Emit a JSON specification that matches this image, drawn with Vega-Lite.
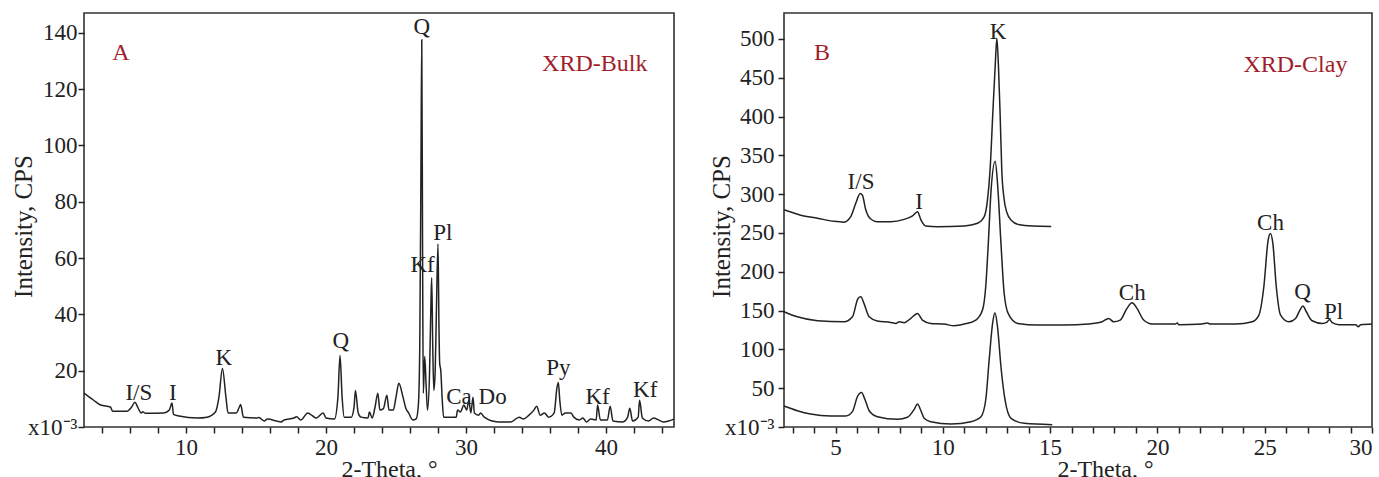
{
  "$schema": "https://vega.github.io/schema/vega-lite/v6.json",
  "background": "white",
  "padding": {"left": 10, "top": 12, "right": 0, "bottom": 0},
  "spacing": 30,
  "config": {
    "view": {"stroke": "#333333", "strokeWidth": 1.6},
    "font": "Liberation Serif",
    "axis": {
      "domain": false,
      "grid": false,
      "ticks": true,
      "tickColor": "#222222",
      "tickWidth": 1.5,
      "tickSize": 6,
      "tickCount": 60,
      "format": "d",
      "labelFont": "Liberation Serif",
      "labelFontSize": 23,
      "labelColor": "#222222",
      "labelOverlap": false,
      "labelBound": false,
      "titleFont": "Liberation Serif",
      "titleFontSize": 25,
      "titleFontWeight": "normal",
      "titleColor": "#222222"
    }
  },
  "datasets": {
    "bulk": [
      {"theta": 2.71, "cps": 12}, {"theta": 3.4, "cps": 9.5}, {"theta": 3.9, "cps": 7.8}, {"theta": 4.6, "cps": 7.1},
      {"theta": 4.75, "cps": 5.6}, {"theta": 5.8, "cps": 5.6}, {"theta": 6.1, "cps": 7}, {"theta": 6.35, "cps": 8.8},
      {"theta": 6.55, "cps": 7}, {"theta": 6.8, "cps": 5}, {"theta": 6.9, "cps": 5.4}, {"theta": 7.1, "cps": 4.9},
      {"theta": 8.4, "cps": 5}, {"theta": 8.8, "cps": 6}, {"theta": 9.0, "cps": 8.5}, {"theta": 9.1, "cps": 4.5},
      {"theta": 9.5, "cps": 3.9}, {"theta": 10.8, "cps": 3.2}, {"theta": 11.5, "cps": 3.5}, {"theta": 12.1, "cps": 5.3},
      {"theta": 12.35, "cps": 10.6}, {"theta": 12.6, "cps": 20.8}, {"theta": 12.85, "cps": 10.6}, {"theta": 13.0, "cps": 5},
      {"theta": 13.6, "cps": 5}, {"theta": 13.8, "cps": 7}, {"theta": 13.9, "cps": 8}, {"theta": 14.1, "cps": 3.5},
      {"theta": 15.1, "cps": 3.2}, {"theta": 15.2, "cps": 3.4}, {"theta": 15.6, "cps": 2.1}, {"theta": 15.8, "cps": 2.8},
      {"theta": 16.8, "cps": 1.8}, {"theta": 17.0, "cps": 2.5}, {"theta": 17.7, "cps": 3.2}, {"theta": 17.9, "cps": 3.6},
      {"theta": 18.2, "cps": 2.5}, {"theta": 18.7, "cps": 5}, {"theta": 19.05, "cps": 3.9}, {"theta": 19.3, "cps": 3.2},
      {"theta": 19.8, "cps": 5}, {"theta": 20.0, "cps": 3.2}, {"theta": 20.6, "cps": 2.8}, {"theta": 20.85, "cps": 10.6},
      {"theta": 21.0, "cps": 25.4}, {"theta": 21.15, "cps": 10.6}, {"theta": 21.3, "cps": 3.5}, {"theta": 21.8, "cps": 3.5},
      {"theta": 22.0, "cps": 7}, {"theta": 22.1, "cps": 13}, {"theta": 22.3, "cps": 5}, {"theta": 22.5, "cps": 3.5},
      {"theta": 23.0, "cps": 3.2}, {"theta": 23.1, "cps": 5.3}, {"theta": 23.3, "cps": 3.2}, {"theta": 23.5, "cps": 7},
      {"theta": 23.7, "cps": 12}, {"theta": 23.85, "cps": 6}, {"theta": 24.1, "cps": 6.5}, {"theta": 24.35, "cps": 11.3},
      {"theta": 24.5, "cps": 6}, {"theta": 24.8, "cps": 6}, {"theta": 25.0, "cps": 10.6}, {"theta": 25.2, "cps": 15.5},
      {"theta": 25.5, "cps": 10.6}, {"theta": 25.7, "cps": 6.7}, {"theta": 25.9, "cps": 5}, {"theta": 26.2, "cps": 2.5},
      {"theta": 26.45, "cps": 3}, {"theta": 26.6, "cps": 8}, {"theta": 26.7, "cps": 30}, {"theta": 26.78, "cps": 90},
      {"theta": 26.84, "cps": 137.5}, {"theta": 26.9, "cps": 60}, {"theta": 26.95, "cps": 12}, {"theta": 27.05, "cps": 25},
      {"theta": 27.15, "cps": 15}, {"theta": 27.25, "cps": 6}, {"theta": 27.4, "cps": 20}, {"theta": 27.5, "cps": 45},
      {"theta": 27.55, "cps": 53}, {"theta": 27.62, "cps": 30}, {"theta": 27.7, "cps": 13}, {"theta": 27.8, "cps": 20},
      {"theta": 27.9, "cps": 45}, {"theta": 28.0, "cps": 65}, {"theta": 28.07, "cps": 35}, {"theta": 28.12, "cps": 22.6},
      {"theta": 28.2, "cps": 20}, {"theta": 28.3, "cps": 10}, {"theta": 28.4, "cps": 3.5}, {"theta": 29.3, "cps": 3.5},
      {"theta": 29.4, "cps": 6}, {"theta": 29.6, "cps": 5.3}, {"theta": 29.85, "cps": 7.8}, {"theta": 30.05, "cps": 6},
      {"theta": 30.2, "cps": 9.5}, {"theta": 30.35, "cps": 5}, {"theta": 30.5, "cps": 10.6}, {"theta": 30.6, "cps": 5},
      {"theta": 30.9, "cps": 4.2}, {"theta": 31.05, "cps": 5}, {"theta": 31.3, "cps": 3.5}, {"theta": 32.3, "cps": 1.8},
      {"theta": 33.2, "cps": 1.8}, {"theta": 33.8, "cps": 3.5}, {"theta": 34.1, "cps": 2.8}, {"theta": 34.5, "cps": 4.2},
      {"theta": 34.85, "cps": 6}, {"theta": 35.05, "cps": 7.4}, {"theta": 35.3, "cps": 4.2}, {"theta": 35.6, "cps": 5},
      {"theta": 35.9, "cps": 3.5}, {"theta": 36.3, "cps": 5}, {"theta": 36.5, "cps": 14}, {"theta": 36.6, "cps": 15.8},
      {"theta": 36.7, "cps": 9.5}, {"theta": 36.85, "cps": 4.2}, {"theta": 37.1, "cps": 5}, {"theta": 37.5, "cps": 5},
      {"theta": 37.7, "cps": 3.5}, {"theta": 38.1, "cps": 2.5}, {"theta": 38.35, "cps": 3.2}, {"theta": 38.6, "cps": 1.8},
      {"theta": 38.9, "cps": 2.8}, {"theta": 39.3, "cps": 2.5}, {"theta": 39.4, "cps": 7.8}, {"theta": 39.6, "cps": 2.5},
      {"theta": 40.1, "cps": 2.5}, {"theta": 40.3, "cps": 7.4}, {"theta": 40.5, "cps": 2.1}, {"theta": 41.2, "cps": 1.8},
      {"theta": 41.55, "cps": 3.5}, {"theta": 41.7, "cps": 6.7}, {"theta": 41.9, "cps": 2.1}, {"theta": 42.3, "cps": 3.5},
      {"theta": 42.4, "cps": 9.5}, {"theta": 42.6, "cps": 3.2}, {"theta": 43.05, "cps": 2.1}, {"theta": 43.4, "cps": 3.2},
      {"theta": 44.1, "cps": 1.8}, {"theta": 44.86, "cps": 2.8}
    ],
    "bulkPeaks": [
      {"theta": 6.63, "cps": 12.1, "label": "I/S"},
      {"theta": 9.06, "cps": 12.1, "label": "I"},
      {"theta": 12.7, "cps": 24.5, "label": "K"},
      {"theta": 21.06, "cps": 30.5, "label": "Q"},
      {"theta": 26.84, "cps": 142, "label": "Q"},
      {"theta": 26.9, "cps": 57.5, "label": "Kf"},
      {"theta": 28.34, "cps": 68.9, "label": "Pl"},
      {"theta": 29.5, "cps": 10.7, "label": "Ca"},
      {"theta": 31.9, "cps": 10.7, "label": "Do"},
      {"theta": 36.6, "cps": 21, "label": "Py"},
      {"theta": 39.4, "cps": 10.7, "label": "Kf"},
      {"theta": 42.8, "cps": 13.1, "label": "Kf"}
    ],
    "bulkTags": [
      {"theta": 5.34, "cps": 132.9, "tag": "A"},
      {"theta": 39.2, "cps": 129, "tag": "XRD-Bulk"}
    ],
    "clay": [
      {"scan": "upper", "theta": 2.6, "cps": 280}, {"scan": "upper", "theta": 3.38, "cps": 273},
      {"scan": "upper", "theta": 4.16, "cps": 269}, {"scan": "upper", "theta": 4.93, "cps": 265},
      {"scan": "upper", "theta": 5.4, "cps": 264}, {"scan": "upper", "theta": 5.71, "cps": 271},
      {"scan": "upper", "theta": 5.94, "cps": 288}, {"scan": "upper", "theta": 6.15, "cps": 301},
      {"scan": "upper", "theta": 6.25, "cps": 299}, {"scan": "upper", "theta": 6.41, "cps": 280},
      {"scan": "upper", "theta": 6.64, "cps": 268}, {"scan": "upper", "theta": 6.95, "cps": 264.5},
      {"scan": "upper", "theta": 7.58, "cps": 264.5}, {"scan": "upper", "theta": 8.2, "cps": 267.6},
      {"scan": "upper", "theta": 8.59, "cps": 272}, {"scan": "upper", "theta": 8.82, "cps": 277.5},
      {"scan": "upper", "theta": 8.98, "cps": 267}, {"scan": "upper", "theta": 9.21, "cps": 259},
      {"scan": "upper", "theta": 9.75, "cps": 258}, {"scan": "upper", "theta": 11.0, "cps": 259},
      {"scan": "upper", "theta": 11.62, "cps": 262.5}, {"scan": "upper", "theta": 11.93, "cps": 271},
      {"scan": "upper", "theta": 12.08, "cps": 292}, {"scan": "upper", "theta": 12.2, "cps": 330},
      {"scan": "upper", "theta": 12.33, "cps": 404}, {"scan": "upper", "theta": 12.45, "cps": 470},
      {"scan": "upper", "theta": 12.52, "cps": 501}, {"scan": "upper", "theta": 12.6, "cps": 460},
      {"scan": "upper", "theta": 12.67, "cps": 404}, {"scan": "upper", "theta": 12.75, "cps": 330},
      {"scan": "upper", "theta": 12.85, "cps": 295}, {"scan": "upper", "theta": 12.99, "cps": 276},
      {"scan": "upper", "theta": 13.2, "cps": 266}, {"scan": "upper", "theta": 13.52, "cps": 261},
      {"scan": "upper", "theta": 14.2, "cps": 259}, {"scan": "upper", "theta": 15.05, "cps": 258.5},

      {"scan": "middle", "theta": 2.6, "cps": 148.6}, {"scan": "middle", "theta": 3.22, "cps": 142},
      {"scan": "middle", "theta": 4.16, "cps": 137}, {"scan": "middle", "theta": 5.4, "cps": 135.6},
      {"scan": "middle", "theta": 5.79, "cps": 142}, {"scan": "middle", "theta": 6.05, "cps": 165.6},
      {"scan": "middle", "theta": 6.18, "cps": 167.8}, {"scan": "middle", "theta": 6.33, "cps": 159},
      {"scan": "middle", "theta": 6.57, "cps": 142}, {"scan": "middle", "theta": 6.95, "cps": 136.5},
      {"scan": "middle", "theta": 7.58, "cps": 134.8}, {"scan": "middle", "theta": 7.81, "cps": 133.5},
      {"scan": "middle", "theta": 7.97, "cps": 135.6}, {"scan": "middle", "theta": 8.2, "cps": 134.4},
      {"scan": "middle", "theta": 8.51, "cps": 140}, {"scan": "middle", "theta": 8.82, "cps": 146.4},
      {"scan": "middle", "theta": 9.05, "cps": 137.8}, {"scan": "middle", "theta": 9.44, "cps": 133.5},
      {"scan": "middle", "theta": 10.06, "cps": 132.6}, {"scan": "middle", "theta": 10.53, "cps": 130.5},
      {"scan": "middle", "theta": 11.0, "cps": 132.6}, {"scan": "middle", "theta": 11.54, "cps": 137.8},
      {"scan": "middle", "theta": 11.85, "cps": 150.7}, {"scan": "middle", "theta": 12.0, "cps": 180.7},
      {"scan": "middle", "theta": 12.12, "cps": 236.6}, {"scan": "middle", "theta": 12.24, "cps": 301},
      {"scan": "middle", "theta": 12.44, "cps": 342.4}, {"scan": "middle", "theta": 12.56, "cps": 310},
      {"scan": "middle", "theta": 12.71, "cps": 236.6}, {"scan": "middle", "theta": 12.86, "cps": 172},
      {"scan": "middle", "theta": 13.05, "cps": 146}, {"scan": "middle", "theta": 13.49, "cps": 133.5},
      {"scan": "middle", "theta": 14.42, "cps": 131.4}, {"scan": "middle", "theta": 15.66, "cps": 131.4},
      {"scan": "middle", "theta": 16.8, "cps": 132.7}, {"scan": "middle", "theta": 17.42, "cps": 135.6},
      {"scan": "middle", "theta": 17.73, "cps": 139.9}, {"scan": "middle", "theta": 17.96, "cps": 135.6},
      {"scan": "middle", "theta": 18.27, "cps": 137.8}, {"scan": "middle", "theta": 18.58, "cps": 152.8},
      {"scan": "middle", "theta": 18.82, "cps": 160}, {"scan": "middle", "theta": 19.05, "cps": 152.8},
      {"scan": "middle", "theta": 19.36, "cps": 137.8}, {"scan": "middle", "theta": 19.75, "cps": 132.7},
      {"scan": "middle", "theta": 20.84, "cps": 132.7}, {"scan": "middle", "theta": 20.92, "cps": 134},
      {"scan": "middle", "theta": 21.0, "cps": 131.8}, {"scan": "middle", "theta": 22.08, "cps": 132.7},
      {"scan": "middle", "theta": 22.32, "cps": 134}, {"scan": "middle", "theta": 22.47, "cps": 132.7},
      {"scan": "middle", "theta": 23.64, "cps": 132.7}, {"scan": "middle", "theta": 24.42, "cps": 135.6},
      {"scan": "middle", "theta": 24.73, "cps": 144.2}, {"scan": "middle", "theta": 24.96, "cps": 180.7},
      {"scan": "middle", "theta": 25.16, "cps": 240.9}, {"scan": "middle", "theta": 25.27, "cps": 249.5},
      {"scan": "middle", "theta": 25.38, "cps": 236.6}, {"scan": "middle", "theta": 25.54, "cps": 180.7},
      {"scan": "middle", "theta": 25.74, "cps": 144.2}, {"scan": "middle", "theta": 26.13, "cps": 135.6},
      {"scan": "middle", "theta": 26.44, "cps": 139.9}, {"scan": "middle", "theta": 26.64, "cps": 150.7},
      {"scan": "middle", "theta": 26.78, "cps": 155.8}, {"scan": "middle", "theta": 26.94, "cps": 148.5},
      {"scan": "middle", "theta": 27.21, "cps": 136.9}, {"scan": "middle", "theta": 27.68, "cps": 133.5},
      {"scan": "middle", "theta": 27.92, "cps": 135.6}, {"scan": "middle", "theta": 28.02, "cps": 138.6},
      {"scan": "middle", "theta": 28.15, "cps": 134.4}, {"scan": "middle", "theta": 28.46, "cps": 131.8},
      {"scan": "middle", "theta": 29.24, "cps": 131.8}, {"scan": "middle", "theta": 29.36, "cps": 129.2},
      {"scan": "middle", "theta": 29.47, "cps": 131.8}, {"scan": "middle", "theta": 30.0, "cps": 132.7},

      {"scan": "lower", "theta": 2.6, "cps": 27}, {"scan": "lower", "theta": 3.22, "cps": 21},
      {"scan": "lower", "theta": 3.84, "cps": 16.7}, {"scan": "lower", "theta": 4.78, "cps": 14.2},
      {"scan": "lower", "theta": 5.48, "cps": 14.2}, {"scan": "lower", "theta": 5.79, "cps": 19.8},
      {"scan": "lower", "theta": 6.02, "cps": 39}, {"scan": "lower", "theta": 6.21, "cps": 44.3},
      {"scan": "lower", "theta": 6.38, "cps": 34.8}, {"scan": "lower", "theta": 6.57, "cps": 21},
      {"scan": "lower", "theta": 6.95, "cps": 13.3}, {"scan": "lower", "theta": 7.89, "cps": 9.9},
      {"scan": "lower", "theta": 8.35, "cps": 12.5}, {"scan": "lower", "theta": 8.67, "cps": 22.8},
      {"scan": "lower", "theta": 8.82, "cps": 29.6}, {"scan": "lower", "theta": 8.98, "cps": 21},
      {"scan": "lower", "theta": 9.13, "cps": 11.2}, {"scan": "lower", "theta": 9.44, "cps": 6.9},
      {"scan": "lower", "theta": 10.38, "cps": 3.9}, {"scan": "lower", "theta": 11.31, "cps": 6.9},
      {"scan": "lower", "theta": 11.78, "cps": 13.3}, {"scan": "lower", "theta": 12.0, "cps": 34.8},
      {"scan": "lower", "theta": 12.16, "cps": 86.3}, {"scan": "lower", "theta": 12.32, "cps": 133.5},
      {"scan": "lower", "theta": 12.43, "cps": 147.3}, {"scan": "lower", "theta": 12.55, "cps": 129},
      {"scan": "lower", "theta": 12.71, "cps": 77.7}, {"scan": "lower", "theta": 12.9, "cps": 34.8},
      {"scan": "lower", "theta": 13.18, "cps": 11.2}, {"scan": "lower", "theta": 13.8, "cps": 4.7},
      {"scan": "lower", "theta": 15.1, "cps": 3}
    ],
    "clayPeaks": [
      {"theta": 6.19, "cps": 315.7, "label": "I/S"},
      {"theta": 8.9, "cps": 290, "label": "I"},
      {"theta": 12.58, "cps": 509, "label": "K"},
      {"theta": 18.83, "cps": 172.7, "label": "Ch"},
      {"theta": 25.27, "cps": 263, "label": "Ch"},
      {"theta": 26.76, "cps": 174, "label": "Q"},
      {"theta": 28.21, "cps": 148, "label": "Pl"}
    ],
    "clayTags": [
      {"theta": 4.37, "cps": 482, "tag": "B"},
      {"theta": 26.43, "cps": 466.5, "tag": "XRD-Clay"}
    ]
  },
  "hconcat": [
    {
      "width": 590,
      "height": 414,
      "layer": [
        {
          "data": {"name": "bulk"},
          "mark": {"type": "line", "color": "#222222", "strokeWidth": 1.5, "interpolate": "monotone"},
          "encoding": {
            "x": {
              "field": "theta", "type": "quantitative",
              "scale": {"domain": [2.71, 44.86], "nice": false, "zero": false},
              "axis": {
                "values": [4, 6, 8, 10, 12, 14, 16, 18, 20, 22, 24, 26, 28, 30, 32, 34, 36, 38, 40, 42, 44],
                "tickCount": 60,
                "format": "d",
                "labelExpr": "datum.value % 10 === 0 ? datum.label : ''",
                "labelOverlap": false,
                "labelBaseline": "alphabetic",
                "labelPadding": 21,
                "title": "2-Theta, °",
                "titleFontSize": 24,
                "titleX": 305,
                "titleY": 49,
                "titleAlign": "center",
                "titleBaseline": "alphabetic"
              }
            },
            "y": {
              "field": "cps", "type": "quantitative",
              "scale": {"domain": [0, 147], "nice": false},
              "axis": {
                "values": [0, 20, 40, 60, 80, 100, 120, 140],
                "tickCount": 60,
                "format": "d",
                "labelExpr": "datum.value === 0 ? 'x10⁻³' : datum.label",
                "labelOverlap": false,
                "labelPadding": 1,
                "title": "Intensity, CPS",
                "titleAngle": -90,
                "titleX": -48,
                "titleY": 213,
                "titleAlign": "center",
                "titleBaseline": "bottom"
              }
            }
          }
        },
        {
          "data": {"name": "bulkPeaks"},
          "mark": {"type": "text", "fontSize": 23, "color": "#222222", "baseline": "middle", "align": "center"},
          "encoding": {
            "x": {"field": "theta", "type": "quantitative"},
            "y": {"field": "cps", "type": "quantitative"},
            "text": {"field": "label"}
          }
        },
        {
          "data": {"name": "bulkTags"},
          "mark": {"type": "text", "fontSize": 24, "color": "#a11d2b", "baseline": "middle", "align": "center"},
          "encoding": {
            "x": {"field": "theta", "type": "quantitative"},
            "y": {"field": "cps", "type": "quantitative"},
            "text": {"field": "tag"}
          }
        }
      ]
    },
    {
      "width": 588,
      "height": 414,
      "layer": [
        {
          "data": {"name": "clay"},
          "mark": {"type": "line", "color": "#222222", "strokeWidth": 1.5, "interpolate": "monotone"},
          "encoding": {
            "x": {
              "field": "theta", "type": "quantitative",
              "scale": {"domain": [2.6, 30], "nice": false, "zero": false},
              "axis": {
                "values": [3, 4, 5, 6, 7, 8, 9, 10, 11, 12, 13, 14, 15, 16, 17, 18, 19, 20, 21, 22, 23, 24, 25, 26, 27, 28, 29, 30],
                "tickCount": 60,
                "format": "d",
                "labelExpr": "datum.value % 5 === 0 ? datum.label : ''",
                "labelOverlap": false,
                "labelBaseline": "alphabetic",
                "labelPadding": 21,
                "title": "2-Theta, °",
                "titleFontSize": 24,
                "titleX": 321,
                "titleY": 49,
                "titleAlign": "center",
                "titleBaseline": "alphabetic"
              }
            },
            "y": {
              "field": "cps", "type": "quantitative",
              "scale": {"domain": [0, 533.5], "nice": false},
              "axis": {
                "values": [0, 50, 100, 150, 200, 250, 300, 350, 400, 450, 500],
                "tickCount": 60,
                "format": "d",
                "labelExpr": "datum.value === 0 ? 'x10⁻³' : datum.label",
                "labelOverlap": false,
                "labelPadding": 4,
                "title": "Intensity, CPS",
                "titleAngle": -90,
                "titleX": -50,
                "titleY": 213,
                "titleAlign": "center",
                "titleBaseline": "bottom"
              }
            },
            "detail": {"field": "scan"}
          }
        },
        {
          "data": {"name": "clayPeaks"},
          "mark": {"type": "text", "fontSize": 23, "color": "#222222", "baseline": "middle", "align": "center"},
          "encoding": {
            "x": {"field": "theta", "type": "quantitative"},
            "y": {"field": "cps", "type": "quantitative"},
            "text": {"field": "label"}
          }
        },
        {
          "data": {"name": "clayTags"},
          "mark": {"type": "text", "fontSize": 24, "color": "#a11d2b", "baseline": "middle", "align": "center"},
          "encoding": {
            "x": {"field": "theta", "type": "quantitative"},
            "y": {"field": "cps", "type": "quantitative"},
            "text": {"field": "tag"}
          }
        }
      ]
    }
  ]
}
